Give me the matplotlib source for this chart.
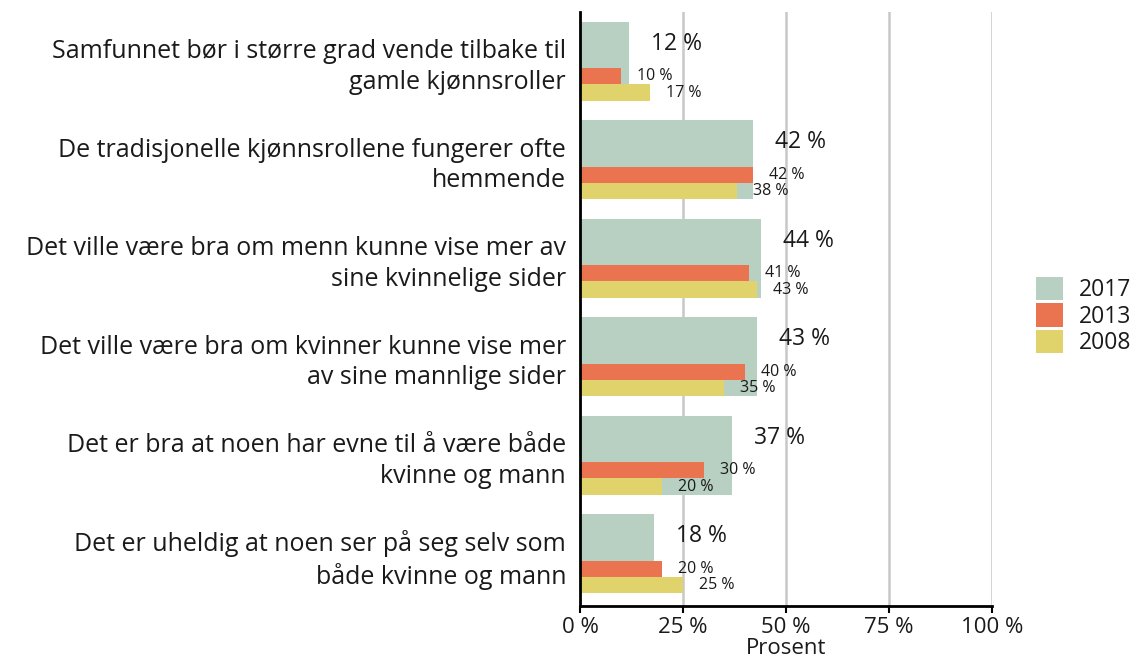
import matplotlib
matplotlib.use("Agg")
import matplotlib.pyplot as plt
from matplotlib.patches import Patch
import numpy as np

plt.rcParams['font.family'] = ['Open Sans', 'DejaVu Sans']

categories = [
    "Samfunnet bør i større grad vende tilbake til\ngamle kjønnsroller",
    "De tradisjonelle kjønnsrollene fungerer ofte\nhemmende",
    "Det ville være bra om menn kunne vise mer av\nsine kvinnelige sider",
    "Det ville være bra om kvinner kunne vise mer\nav sine mannlige sider",
    "Det er bra at noen har evne til å være både\nkvinne og mann",
    "Det er uheldig at noen ser på seg selv som\nbåde kvinne og mann",
]
v2017 = [12, 42, 44, 43, 37, 18]
v2013 = [10, 42, 41, 40, 30, 20]
v2008 = [17, 38, 43, 35, 20, 25]
years = ["2017", "2013", "2008"]
colors = ["#B8D0C1", "#EA7350", "#E1D36B"]
xticks = [0, 25, 50, 75, 100]

fig = plt.figure(figsize=(11.39, 6.66), dpi=100)
ax = fig.add_axes([580 / 1139, 1 - 606 / 666, 412 / 1139, 594 / 666])

y = np.arange(len(categories))
h_big = 0.80
h_small = 0.165
y_red = y + 0.4 - 2 * h_small + h_small / 2
y_yel = y + 0.4 - h_small / 2

ax.barh(y, v2017, height=h_big, color=colors[0], zorder=2)
ax.barh(y_red, v2013, height=h_small, color=colors[1], zorder=3)
ax.barh(y_yel, v2008, height=h_small, color=colors[2], zorder=3)

txt = '#1a1a1a'
for i in range(len(categories)):
    ax.annotate(f"{v2017[i]} %", xy=(v2017[i], y[i] - 0.18), xytext=(22, 0),
                textcoords='offset pixels', va='center', ha='left',
                fontsize=16.5, color=txt)
    ax.annotate(f"{v2013[i]} %", xy=(v2013[i], y_red[i]), xytext=(16, 0),
                textcoords='offset pixels', va='center', ha='left',
                fontsize=11.5, color=txt)
    ax.annotate(f"{v2008[i]} %", xy=(v2008[i], y_yel[i]), xytext=(16, 0),
                textcoords='offset pixels', va='center', ha='left',
                fontsize=11.5, color=txt)

ax.set_xlim(0, 100)
ax.set_ylim(len(categories) - 0.47, -0.5)
ax.set_xticks(xticks)
ax.set_xticklabels([f"{t} %" for t in xticks], fontsize=16, color=txt)
ax.set_yticks(y)
ax.set_yticklabels(categories, fontsize=18, linespacing=1.3, ha='right',
                   multialignment='right', color=txt)
ax.tick_params(axis='y', length=0, pad=10)
ax.tick_params(axis='x', length=5, width=1.5, pad=3)
ax.set_xlabel("Prosent", fontsize=16, labelpad=0, color=txt)

ax.grid(axis='x', color='#C8C8C8', linewidth=1.8, zorder=0)
ax.set_axisbelow(True)
for s in ['top', 'right']:
    ax.spines[s].set_visible(False)
for s in ['left', 'bottom']:
    ax.spines[s].set_linewidth(2)
    ax.spines[s].set_zorder(4)

handles = [Patch(facecolor=c, edgecolor='none') for c in colors]
fig.legend(handles, years, loc='upper left', bbox_to_anchor=(1036 / 1139, 1 - 277 / 666),
           frameon=False, fontsize=16.5, handlelength=1.18, handleheight=1.18,
           labelspacing=0.05, handletextpad=0.7, borderaxespad=0, borderpad=0,
           labelcolor=txt)

fig.savefig("out.png", dpi=100)
